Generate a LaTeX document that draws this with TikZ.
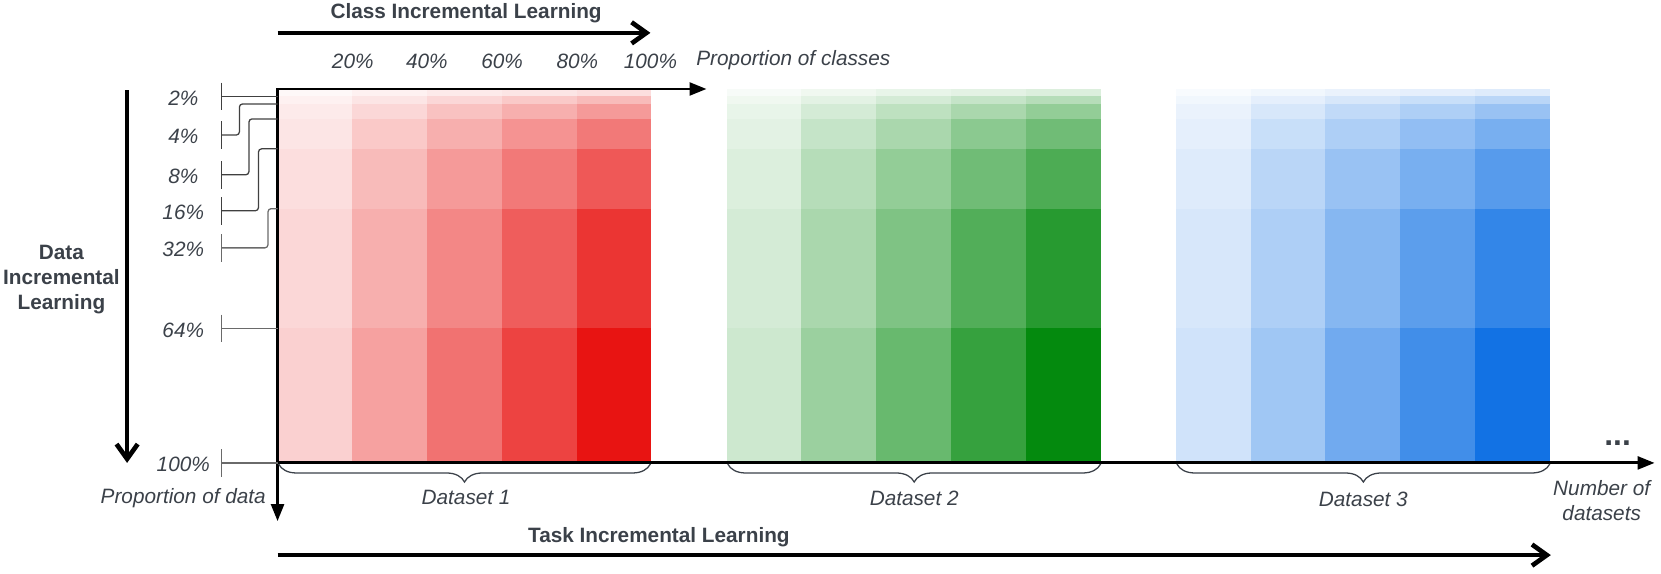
\documentclass[tikz,border=0pt]{standalone}
\usepackage{fontspec}
\setmainfont{Liberation Sans}
\usetikzlibrary{arrows.meta,decorations.pathreplacing}
\definecolor{txt}{HTML}{3B4149}
\definecolor{redb}{RGB}{232,20,18}
\definecolor{greenb}{RGB}{4,138,14}
\definecolor{blueb}{RGB}{18,114,228}
\definecolor{tickc}{HTML}{404040}
\definecolor{tickl}{HTML}{6A6A6A}
\begin{document}
\begin{tikzpicture}[x=0.5pt,y=-0.5pt,
  every node/.style={text=txt, inner sep=0pt},
  lbl/.style={font=\fontsize{9.8}{11.8}\selectfont\itshape},
  ttl/.style={font=\fontsize{9.8}{11.8}\selectfont\bfseries, align=center},
  bigarrow/.style={line width=2.2pt, -{Straight Barb[length=7pt,width=10pt]}},
  axis/.style={line width=1.4pt, line cap=rect, -{Triangle[length=8pt,width=6pt]}},
  tickline/.style={line width=0.6pt, draw=tickc},
  conn/.style={line width=0.6pt, draw=tickc, rounded corners=1.5pt},
  dbrace/.style={decorate, decoration={brace, mirror, amplitude=8.5pt}, line width=0.6pt, draw=txt},
]
\useasboundingbox (0,0) rectangle (1568,541);

% colour cells
\foreach \bx/\bc in {262/redb, 686/greenb, 1110/blueb}{
  \foreach \r/\ya/\yb in {1/84/91.06, 2/91.06/98.12, 3/98.12/112.24, 4/112.24/140.48, 5/140.48/196.96, 6/196.96/309.92, 7/309.92/437}{
    \foreach \c in {1,...,5}{
      \pgfmathsetmacro\xa{\bx+(\c-1)*70.6}
      \pgfmathsetmacro\xb{\bx+\c*70.6}
      \pgfmathtruncatemacro\al{round(100*\c*\r/35)}
      \fill[\bc!\al!white] (\xa,\ya) rectangle (\xb,\yb);
    }
  }
}

% axes
\coordinate (O) at (262,84);
\coordinate (xend) at (667,84);
\coordinate (yend) at (262,492);
\coordinate (B) at (262,437);
\coordinate (nend) at (1562,437);
\draw[axis] (O) -- (xend);
\draw[axis] (O) -- (yend);
\draw[axis] (B) -- (nend);

% big arrows
\coordinate (cs) at (262,31);  \coordinate (ce) at (614,31);
\coordinate (ds) at (120,85);  \coordinate (de) at (120,437);
\coordinate (ts) at (262,524); \coordinate (te) at (1464,524);
\draw[bigarrow] (cs) -- (ce);
\draw[bigarrow] (ds) -- (de);
\draw[bigarrow] (ts) -- (te);

% titles
\node[ttl] (cil) at (440,12) {Class Incremental Learning};
\node[ttl] (dil) at (58,264) {Data\\Incremental\\Learning};
\node[ttl] (til) at (622,507) {Task Incremental Learning};

% top labels
\node[lbl] (p20) at (333,58) {20\%};
\node[lbl] (p40) at (403,58) {40\%};
\node[lbl] (p60) at (474,58) {60\%};
\node[lbl] (p80) at (545,58) {80\%};
\node[lbl] (p100) at (614,58) {100\%};
\node[lbl, anchor=west] (poc) at (657,57) {Proportion of classes};

% left ticks and labels
\foreach \t/\ty/\cc in {2/91.06/tickc, 4/127.5/tickc, 8/165/tickc, 16/199/tickc, 32/234/tickl, 64/310/tickl, 100/437/tickl}{
  \draw[line width=0.6pt, draw=\cc] (209,\ty-13) -- (209,\ty+13);
  \coordinate (k\t) at (209,\ty);
  \node[lbl] (l\t) at (173,\ty+1.5) {\t\%};
}
\coordinate (e2) at (262,91.06);
\coordinate (e4) at (262,98.12);   \coordinate (v4) at (226,98.12);
\coordinate (e8) at (262,112.24);  \coordinate (v8) at (235,112.24);
\coordinate (e16) at (262,140.48); \coordinate (v16) at (244,140.48);
\coordinate (e32) at (262,196.96); \coordinate (v32) at (253,196.96);
\coordinate (e64) at (262,310);
\coordinate (e100) at (262,437);
\draw[conn] (k2) -- (e2);
\draw[conn] (k4) -| (v4) -- (e4);
\draw[conn] (k8) -| (v8) -- (e8);
\draw[conn] (k16) -| (v16) -- (e16);
\draw[conn, draw=tickl] (k32) -| (v32) -- (e32);
\draw[conn, draw=tickl] (k64) -- (e64);
\draw[conn, draw=tickl] (k100) -- (e100);

% bottom labels
\node[lbl] (pod) at (173,470) {Proportion of data};
\coordinate (b1s) at (263,438); \coordinate (b1e) at (614,438);
\coordinate (b2s) at (687,438); \coordinate (b2e) at (1039,438);
\coordinate (b3s) at (1111,438); \coordinate (b3e) at (1463,438);
\draw[dbrace] (b1s) -- (b1e);
\draw[dbrace] (b2s) -- (b2e);
\draw[dbrace] (b3s) -- (b3e);
\node[lbl] (ds1) at (440,470) {Dataset 1};
\node[lbl] (ds2) at (863,470) {Dataset 2};
\node[lbl] (ds3) at (1287,471) {Dataset 3};
\node[lbl, align=center] (nod) at (1512,473) {Number of\\datasets};
\node[font=\fontsize{15}{18}\selectfont\bfseries] (dots) at (1527,418) {...};
\end{tikzpicture}
\end{document}
